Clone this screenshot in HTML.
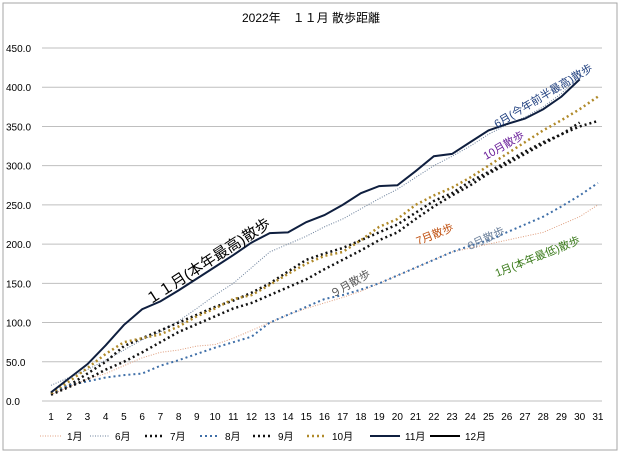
<!DOCTYPE html>
<html><head><meta charset="utf-8"><style>
body{margin:0;background:#fff;}
svg{display:block;font-family:"Liberation Sans","Noto Sans CJK JP",sans-serif;}
</style></head><body>
<svg id="c" width="622" height="456">
<rect x="3" y="3" width="614" height="447" fill="#fff" stroke="#a6a6a6"/>
<text x="311" y="22" text-anchor="middle" font-size="12">2022年　１１月 散歩距離</text>
<g id="grid"></g><g id="series"></g><g id="labels"></g><g id="legend"></g>
</svg>
<script>
const days=[1,2,3,4,5,6,7,8,9,10,11,12,13,14,15,16,17,18,19,20,21,22,23,24,25,26,27,28,29,30,31];
const yTicks=[0,50,100,150,200,250,300,350,400,450];
const jan=[8,18,28,35,45,55,62,65,70,72,80,90,100,110,118,125,132,140,150,160,170,180,190,195,200,205,210,215,225,235,250];
const jun=[20,30,40,52,65,78,88,102,118,135,150,170,190,200,210,222,232,245,258,270,285,300,312,325,340,352,362,375,392,415];
const jul=[10,20,35,50,70,80,90,100,110,120,128,138,150,165,180,188,195,205,215,225,240,255,265,280,292,305,318,330,340,350,357];
const aug=[10,20,25,30,33,35,45,52,60,68,75,82,100,110,120,130,135,142,150,160,170,180,190,198,205,215,225,235,248,262,278];
const sep=[8,18,28,40,50,62,75,88,98,108,118,125,135,145,155,168,180,192,205,215,232,248,262,275,290,302,315,328,340,355];
const oct=[10,25,42,60,75,80,85,95,108,118,130,135,148,162,175,185,190,205,222,232,250,262,272,285,300,315,330,345,358,372,388];
const nov=[11,29,47,71,97,117,127,141,156,171,186,202,214,215,228,237,250,265,274,275,293,312,315,330,345,353,360,372,388,410];
const dec=[];
const NS='http://www.w3.org/2000/svg';
const x=d=>51+(d-1)*18.23, y=v=>401-v*0.7844;
function mk(t,a,p){const e=document.createElementNS(NS,t);for(const k in a)e.setAttribute(k,a[k]);p.appendChild(e);return e;}
const g=document.getElementById('grid');
yTicks.forEach(v=>{const l=mk('line',{x1:42,x2:602,y1:y(v),y2:y(v),stroke:'#bfbfbf'},g);


const t=mk('text',{x:6,y:y(v)+4,'font-size':10},g);t.textContent=v.toFixed(1);

});
days.forEach(d=>{const t=mk('text',{x:x(d),y:420,'font-size':10,'text-anchor':'middle'},g);t.textContent=d;

});
const S=[['1月',jan,'#e0a080',1,'1 1.5'],['6月',jun,'#6a7f9a',1,'1 1.5'],['7月',jul,'#111',2.5,'2 3'],['8月',aug,'#3f6fa8',2,'2 3'],['9月',sep,'#111',2.5,'2 3'],['10月',oct,'#b08a2a',2.5,'2 3'],['11月',nov,'#0f1f3f',2,''],['12月',dec,'#000',2,'']];
const sg=document.getElementById('series');
S.forEach(s=>{if(!s[1].length)return;const p=mk('polyline',{points:s[1].map((v,i)=>x(days[i])+','+y(v)).join(' '),fill:'none',stroke:s[2],'stroke-width':s[3],'stroke-dasharray':s[4]},sg);

});
const lg=document.getElementById('legend');
const lx=[40,90,145,200,253,307,370,430], sw=[22,20,20,20,20,20,30,30];
S.forEach((s,i)=>{const l=mk('line',{x1:lx[i],x2:lx[i]+sw[i],y1:436,y2:436,stroke:s[2],'stroke-width':s[3],'stroke-dasharray':s[4]},lg);


const t=mk('text',{x:lx[i]+sw[i]+5,y:440,'font-size':10},lg);t.textContent=s[0];

});
const L=[['１１月(本年最高)散歩',150,305,-33,'#000',15],['6月(今年前半最高)散歩',497,128,-31,'#1f3f7f',11],['10月散歩',486,160,-30,'#6a1f9a',11],['7月散歩',418,245,-22,'#c05010',11],['8月散歩',470,250,-25,'#6a7f9a',11],['1月(本年最低)散歩',497,277,-22,'#3a7a1a',11],['９月散歩',333,298,-30,'#555',11]];
const lb=document.getElementById('labels');
L.forEach(a=>{const t=mk('text',{x:a[1],y:a[2],fill:a[4],'font-size':a[5],transform:`rotate(${a[3]} ${a[1]} ${a[2]})`},lb);t.textContent=a[0];

});
</script>
</body></html>
